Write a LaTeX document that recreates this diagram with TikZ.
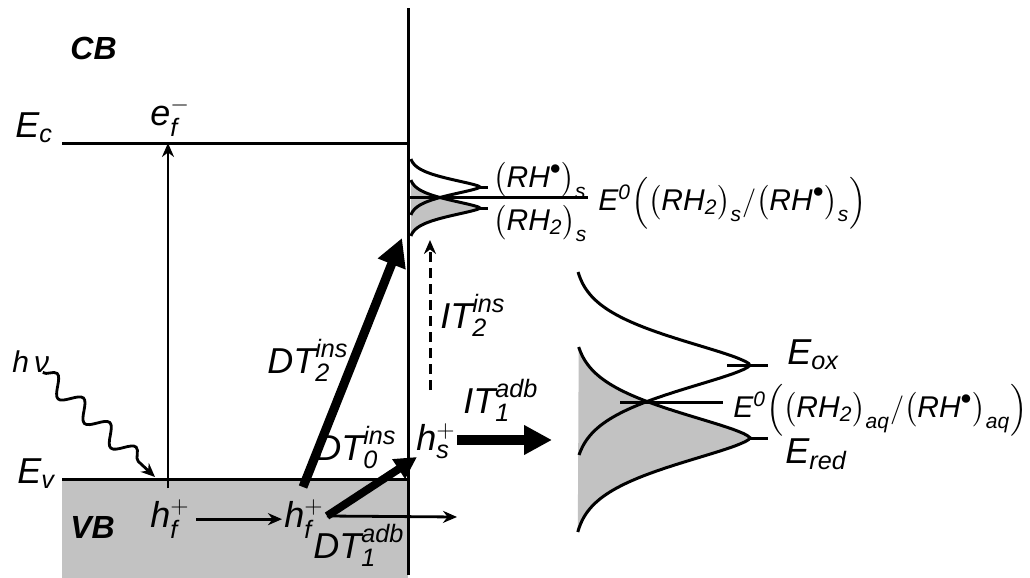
\documentclass[tikz,border=0pt]{standalone}
\usepackage{amsmath}
\usepackage{fontspec}
\setmainfont{Liberation Sans}
\usetikzlibrary{arrows.meta,decorations.pathmorphing}
\definecolor{bandgray}{gray}{0.76}
\newcommand\mi[1]{\mathit{#1}}

\begin{document}
\begin{tikzpicture}[x=0.5pt,y=-0.5pt,
  lvl/.style={line width=1.5pt},
  lbl/.style={inner sep=0pt,anchor=base west,font=\fontsize{18}{21}\selectfont},
  small/.style={lbl,font=\fontsize{15}{18}\selectfont},
  mid/.style={lbl,font=\fontsize{15}{18}\selectfont},
  band/.style={lbl,font=\fontsize{16}{19}\selectfont\bfseries\itshape},
  thinarr/.style={line width=1.4pt,-{Stealth[length=7pt,width=6pt]}},
  fatarr/.style={line width=4.5pt,-{Triangle[length=14pt,width=14pt]}}]
\useasboundingbox (0,0) rectangle (1030,578);

\fill[bandgray] (62,479) rectangle (408,578);
\coordinate (ec0) at (62,143);
\coordinate (ec1) at (408,143);
\coordinate (ev0) at (62,479);
\coordinate (ev1) at (408,479);
\coordinate (top) at (408,8);
\coordinate (bot) at (408,575);
\draw[lvl] (ec0) -- (ec1);
\draw[lvl] (ev0) -- (ev1);
\draw[lvl] (top) -- (bot);

\node[band] (cb) at (70,60) {CB};
\node[band] (vb) at (70,538) {VB};
\node[lbl] (ecl) at (15,137) {$\mi{E}_{\mi{c}}$};
\node[lbl] (evl) at (17,483) {$\mi{E}_{\mi{v}}$};
\node[lbl] (ef) at (150,125) {$\mi{e}^{-}_{\mi{f}}$};
\node[mid] (hv) at (12,372) {\textit{h\,ν}};
\node[lbl] (hf1) at (150,527) {$\mi{h}^{+}_{\mi{f}}$};
\node[lbl] (hf2) at (284,527) {$\mi{h}^{+}_{\mi{f}}$};
\node[lbl] (hs) at (416,450) {$\mi{h}^{+}_{\mi{s}}$};
\node[lbl] (dt2) at (267,373) {$\mi{DT}^{\mi{ins}}_{\mi{2}}$};
\node[lbl] (dt0) at (315,460) {$\mi{DT}^{\mi{ins}}_{\mi{0}}$};
\node[lbl] (dt1) at (313,558) {$\mi{DT}^{\mi{adb}}_{\mi{1}}$};
\node[lbl] (it2) at (440,328) {$\mi{IT}^{\mi{ins}}_{\mi{2}}$};
\node[lbl] (it1) at (463,413) {$\mi{IT}^{\mi{adb}}_{\mi{1}}$};

\coordinate (exc0) at (168,488);
\coordinate (exc1) at (168,143);
\coordinate (hvend) at (155,477);
\draw[thinarr] (exc0) -- (exc1);
\draw[thinarr,decorate,decoration={snake,amplitude=4.5pt,segment length=18pt,post length=6pt}] (hv) -- (hvend);
\draw[thinarr,shorten <=3pt,shorten >=1pt] (hf1) -- (hf2);

\coordinate (dt2a) at (303,487);
\coordinate (dt2b) at (402,238);
\coordinate (dt0a) at (327,516);
\coordinate (dt0b) at (417,457);
\coordinate (dt1b) at (457,517);
\coordinate (it1a) at (457,440);
\coordinate (it1b) at (552,440);
\coordinate (it2a) at (430,390);
\coordinate (it2b) at (430,240);
\draw[fatarr] (dt2a) -- (dt2b);
\draw[fatarr,line width=4pt,-{Triangle[length=11pt,width=11pt]}] (dt0a) -- (dt0b);
\draw[thinarr] (dt0a) -- (dt1b);
\draw[fatarr,line width=5pt] (it1a) -- (it1b);
\draw[thinarr,line width=1.5pt,dash pattern=on 5pt off 3pt] (it2a) -- (it2b);

\fill[bandgray] plot[domain=-28:28,samples=57,variable=\t] ({409+71*exp(-((abs(\t)+0.001)/11.9)^1.5)},{208+\t}) -- cycle;
\draw[lvl] plot[domain=-28:28,samples=57,variable=\t] ({409+71*exp(-((abs(\t)+0.001)/11.9)^1.5)},{187+\t});
\draw[lvl] plot[domain=-28:28,samples=57,variable=\t] ({409+71*exp(-((abs(\t)+0.001)/11.9)^1.5)},{208+\t});
\coordinate (s0) at (409,197.5);
\coordinate (s1) at (588,197.5);
\draw[lvl] (s0) -- (s1);
\draw[lvl] (477,187) -- (488,187);
\draw[lvl] (477,208) -- (488,208);
\node[small] (rhs) at (493,187) {$\bigl(\mi{RH}^{\bullet}\bigr)_{\mi{s}}$};
\node[small] (rh2s) at (493,230) {$\bigl(\mi{RH}_{\mi{2}}\bigr)_{\mi{s}}$};
\node[small] (e0s) at (598,210) {$\mi{E}^{\mi{0}}\Bigl(\bigl(\mi{RH}_{\mi{2}}\bigr)_{\mi{s}}\mi{/}\bigl(\mi{RH}^{\bullet}\bigr)_{\mi{s}}\Bigr)$};

\fill[bandgray] plot[domain=-91:94,samples=93,variable=\t] ({573+177*exp(-((abs(\t)+0.001)/40)^1.5)},{438+\t}) -- cycle;
\draw[lvl] plot[domain=-93:90,samples=93,variable=\t] ({573+177*exp(-((abs(\t)+0.001)/40)^1.5)},{365+\t});
\draw[lvl] plot[domain=-91:94,samples=93,variable=\t] ({573+177*exp(-((abs(\t)+0.001)/40)^1.5)},{438+\t});
\coordinate (ox0) at (727,365);
\coordinate (ox1) at (768,365);
\coordinate (aq0) at (620,402);
\coordinate (aq1) at (723,402);
\coordinate (rd0) at (750,438);
\coordinate (rd1) at (768,438);
\draw[lvl] (ox0) -- (ox1);
\draw[lvl] (aq0) -- (aq1);
\draw[lvl] (rd0) -- (rd1);
\node[lbl] (eox) at (787,364) {$\mi{E}_{\mi{ox}}$};
\node[mid] (e0aq) at (733,417) {$\mi{E}^{\mi{0}}\Bigl(\bigl(\mi{RH}_{\mi{2}}\bigr)_{\mi{aq}}\mi{/}\bigl(\mi{RH}^{\bullet}\bigr)_{\mi{aq}}\Bigr)$};
\node[lbl] (ered) at (785,463) {$\mi{E}_{\mi{red}}$};
\end{tikzpicture}
\end{document}
